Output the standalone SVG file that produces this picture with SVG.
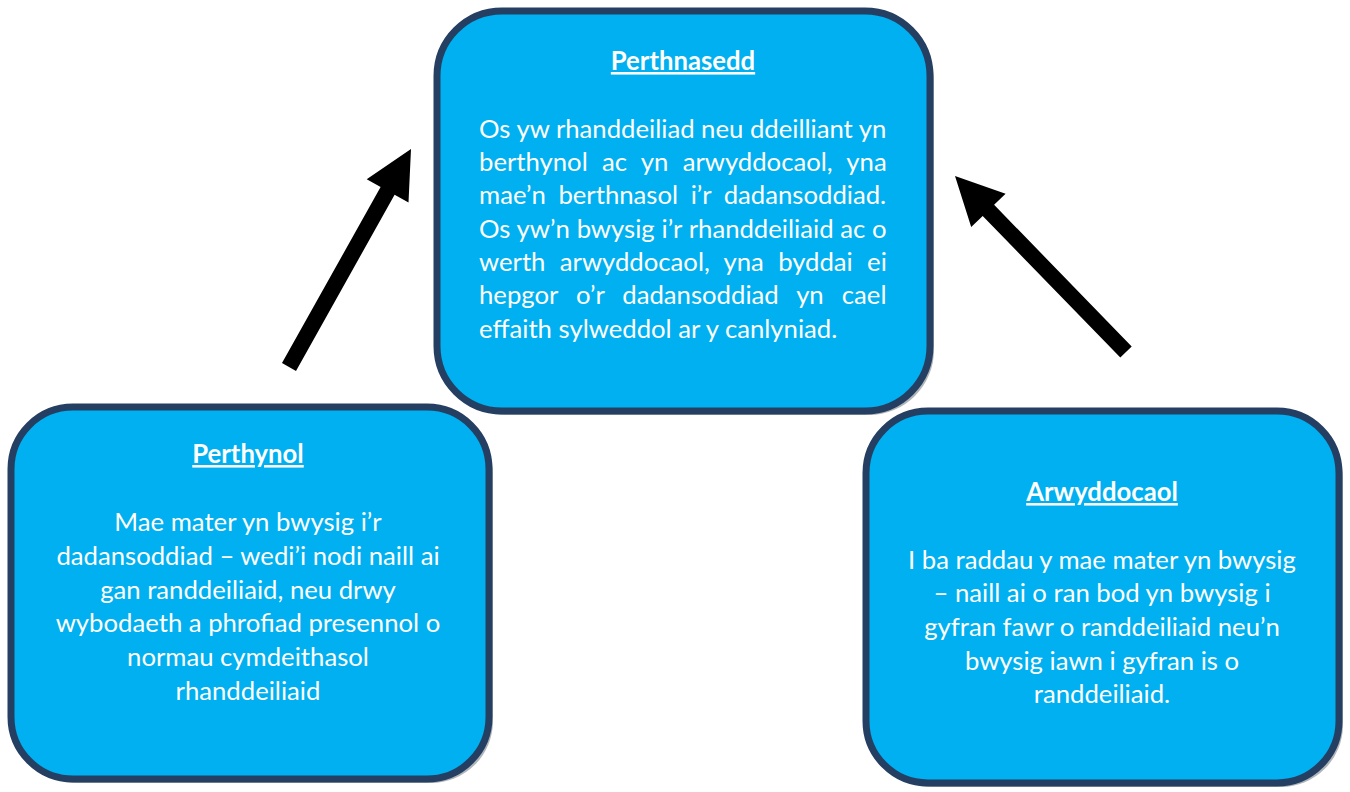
<svg xmlns="http://www.w3.org/2000/svg" width="1350" height="792" viewBox="0 0 1350 792">
<style>
.box{fill:#00B0F0;stroke:#253F62;stroke-width:7}
.shadow{fill:#8f959c;opacity:0.7}
.t{font-family:Lato,"Open Sans","Liberation Sans",sans-serif;fill:#fff;font-size:25.7px}
.h{font-weight:bold;text-decoration:underline;text-anchor:middle}
.c{text-anchor:middle}
.arrow{fill:#000}
</style>
<rect width="1350" height="792" fill="#fff"/>
<g id="node-perthnasedd">
<rect class="shadow" x="441" y="15" width="493" height="400" rx="65"/>
<rect class="box" x="437" y="11" width="493" height="400" rx="65"/>
<text class="t h" x="683" y="70">Perthnasedd</text>
<text class="t" x="479" y="138" word-spacing="0">Os yw rhanddeiliad neu ddeilliant yn</text>
<text class="t" x="479" y="171" word-spacing="7.75">berthynol ac yn arwyddocaol, yna</text>
<text class="t" x="479" y="204" word-spacing="6">mae’n berthnasol i’r dadansoddiad.</text>
<text class="t" x="479" y="238" word-spacing="0.2">Os yw’n bwysig i’r rhanddeiliaid ac o</text>
<text class="t" x="479" y="271" word-spacing="7.75">werth arwyddocaol, yna byddai ei</text>
<text class="t" x="479" y="304" word-spacing="11.5">hepgor o’r dadansoddiad yn cael</text>
<text class="t" x="479" y="338">effaith sylweddol ar y canlyniad.</text>
</g>
<g id="node-perthynol">
<rect class="shadow" x="15" y="411" width="478" height="372" rx="62"/>
<rect class="box" x="11" y="407" width="478" height="372" rx="62"/>
<text class="t h" x="248" y="463">Perthynol</text>
<text class="t c" x="248" y="531">Mae mater yn bwysig i’r</text>
<text class="t c" x="248" y="565">dadansoddiad – wedi’i nodi naill ai</text>
<text class="t c" x="248" y="599">gan randdeiliaid, neu drwy</text>
<text class="t c" x="248" y="632">wybodaeth a phrofiad presennol o</text>
<text class="t c" x="248" y="666">normau cymdeithasol</text>
<text class="t c" x="248" y="700">rhanddeiliaid</text>
</g>
<g id="node-arwyddocaol">
<rect class="shadow" x="870" y="415" width="473" height="372" rx="62"/>
<rect class="box" x="866" y="411" width="473" height="372" rx="62"/>
<text class="t h" x="1102" y="501">Arwyddocaol</text>
<text class="t c" x="1102" y="569">I ba raddau y mae mater yn bwysig</text>
<text class="t c" x="1102" y="602">– naill ai o ran bod yn bwysig i</text>
<text class="t c" x="1102" y="636">gyfran fawr o randdeiliaid neu’n</text>
<text class="t c" x="1102" y="670">bwysig iawn i gyfran is o</text>
<text class="t c" x="1102" y="703">randdeiliaid.</text>
</g>
<g id="connectors">
<polygon class="arrow" points="282.0,363.1 380.6,187.0 366.7,179.2 411,149 408.5,202.6 394.6,194.8 296.0,370.9"/>
<polygon class="arrow" points="1120.3,357.6 982.7,216.0 971.2,227.1 955,176 1005.6,193.7 994.1,204.8 1131.7,346.4"/>
</g>
</svg>
